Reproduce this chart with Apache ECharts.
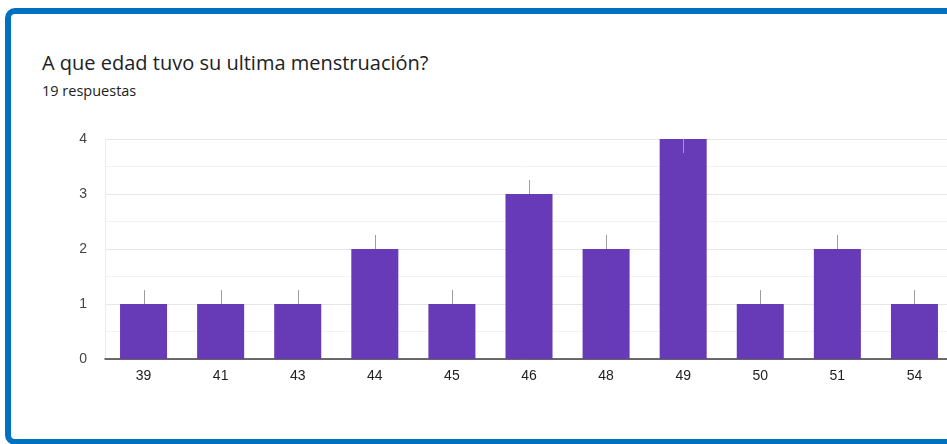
<!DOCTYPE html>
<html>
<head>
<meta charset="utf-8">
<script src="https://cdn.jsdelivr.net/npm/echarts@6/dist/echarts.min.js"></script>
<style>
  html, body { margin: 0; padding: 0; width: 947px; height: 444px; overflow: hidden; background: #fff; }
  #card {
    position: absolute; left: 5px; top: 8px; width: 1000px; height: 437px;
    box-sizing: border-box; border: 6px solid #0071c1; border-radius: 10px; background: #fff;
  }
  #title {
    position: absolute; left: 42px; top: 50px; margin: 0; line-height: 26px;
    font-family: "Open Sans", Roboto, sans-serif; font-size: 20px; font-weight: 400; color: #202124;
    white-space: nowrap;
  }
  #sub {
    position: absolute; left: 42px; top: 82px; margin: 0; line-height: 18px;
    font-family: "Open Sans", Roboto, sans-serif; font-size: 14.5px; color: #202124;
  }
  #chart { position: absolute; left: 0; top: 0; width: 947px; height: 444px; }
</style>
</head>
<body>
<div id="card"></div>
<div id="title">A que edad tuvo su ultima menstruación?</div>
<div id="sub">19 respuestas</div>
<div id="chart"></div>
<script>
// Ages at last menstruation and how many answers gave each age
const ages = ['39', '41', '43', '44', '45', '46', '48', '49', '50', '51', '54'];
const counts = [1, 1, 1, 2, 1, 3, 2, 4, 1, 2, 1];
const yTicks = [0, 1, 2, 3, 4];

const yMax = yTicks[yTicks.length - 1];
const chart = echarts.init(document.getElementById('chart'), null, { renderer: 'canvas' });

chart.setOption({
  animation: false,
  // plot runs past the right edge of the card
  grid: { left: 105, width: 848, top: 139, bottom: 85, containLabel: false, outerBoundsMode: 'none' },
  xAxis: {
    type: 'category',
    data: ages,
    axisLine: { show: true, lineStyle: { color: '#3c3c3c', width: 1.5 } },
    axisTick: { show: false },
    axisLabel: { color: '#222', fontSize: 14, fontFamily: 'Arial, "Liberation Sans", sans-serif', margin: 10 }
  },
  yAxis: {
    type: 'value',
    min: yTicks[0],
    max: yMax,
    interval: 1,
    axisLine: { show: true, lineStyle: { color: '#ececec', width: 1 } },
    axisTick: { show: false },
    axisLabel: { color: '#444', fontSize: 14, fontFamily: 'Arial, "Liberation Sans", sans-serif', margin: 18 },
    splitLine: { show: true, lineStyle: { color: '#e6e6e6', width: 1 } },
    minorTick: { show: false, splitNumber: 2 },
    minorSplitLine: { show: true, lineStyle: { color: '#f3f3f3', width: 1 } }
  },
  series: [
    {
      type: 'bar',
      data: counts,
      barWidth: '61%',
      itemStyle: { color: '#673ab7' },
      z: 2
    },
    {
      // short grey whisker above each bar (pointing down into the tallest one)
      type: 'custom',
      data: counts.map((v, i) => [i, v]),
      z: 3,
      renderItem: function (params, api) {
        const top = api.coord([api.value(0), api.value(1)]);
        const len = 14;
        const dir = api.value(1) >= yMax ? 1 : -1;
        return {
          type: 'line',
          shape: { x1: Math.round(top[0]) + 0.5, y1: top[1], x2: Math.round(top[0]) + 0.5, y2: top[1] + dir * len },
          style: { stroke: '#9e9e9e', lineWidth: 1 }
        };
      }
    }
  ]
});
</script>
</body>
</html>
